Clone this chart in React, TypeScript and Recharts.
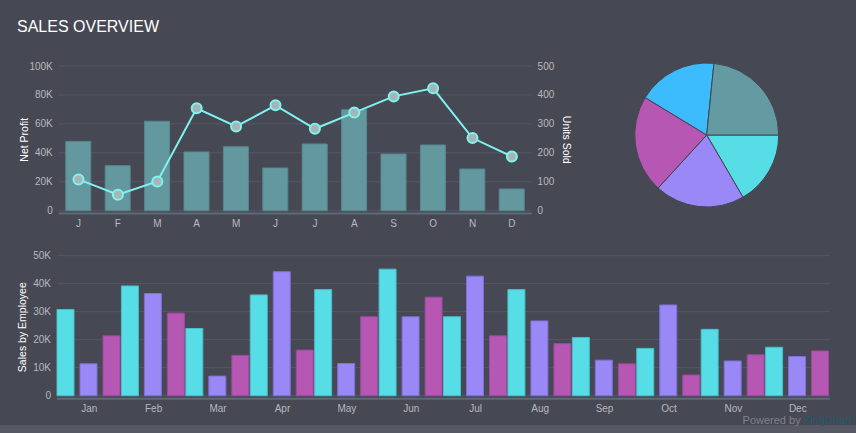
// App.tsx
import {
  ComposedChart,
  BarChart,
  PieChart,
  Pie,
  Cell,
  Bar,
  Line,
  XAxis,
  YAxis,
  CartesianGrid
} from 'recharts';

const monthInitials = ['J', 'F', 'M', 'A', 'M', 'J', 'J', 'A', 'S', 'O', 'N', 'D'];
const netProfit = [47900, 31100, 61800, 40600, 44200, 29500, 46100, 69800, 39200, 45400, 28800, 15000];
const unitsSold = [108, 55, 101, 354, 291, 364, 283, 339, 395, 423, 251, 187];

const months = ['Jan', 'Feb', 'Mar', 'Apr', 'May', 'Jun', 'Jul', 'Aug', 'Sep', 'Oct', 'Nov', 'Dec'];
const employeeA = [30800, 39200, 24000, 36000, 37900, 45200, 28200, 37900, 20800, 16900, 23700, 17300];
const employeeB = [11400, 36500, 7000, 44300, 11500, 28200, 42700, 26700, 12700, 32400, 12400, 14000];
const employeeC = [21400, 29500, 14400, 16300, 28200, 35200, 21400, 18600, 11400, 7400, 14600, 16000];

const pieNames = ['A', 'B', 'C', 'D', 'E'];
const pieValues = [16.6, 20.2, 21.9, 17.9, 23.4];
const pieColors = ['#56dde6', '#9a88f6', '#b657b3', '#3dbcfd', '#649aa1'];

const profitTicks = [0, 20000, 40000, 60000, 80000, 100000];
const unitTicks = [0, 100, 200, 300, 400, 500];
const salesTicks = [0, 10000, 20000, 30000, 40000, 50000];

const topData = monthInitials.map((m, i) => ({ month: m, profit: netProfit[i], units: unitsSold[i] }));
const bottomData = months.map((m, i) => ({ month: m, a: employeeA[i], b: employeeB[i], c: employeeC[i] }));
const pieData = pieNames.map((n, i) => ({ name: n, value: pieValues[i] }));

const BG = '#464854';
const GRID = '#555865';
const AXIS = '#5b6a75';
const TICK = { fill: '#b8b9bd', fontSize: 10 };
const FONT = "'Liberation Sans', Arial, Helvetica, sans-serif";

const kFormat = (v: number) => (v === 0 ? '0' : `${v / 1000}K`);

const axisTitle = (text: string, x: number, rotate: number) => (props: any) => {
  const vb = props.viewBox;
  const cy = vb.y + vb.height / 2;
  return (
    <text
      x={x}
      y={cy}
      transform={`rotate(${rotate} ${x} ${cy})`}
      textAnchor="middle"
      dominantBaseline="central"
      fill="#ffffff"
      fontSize={10.5}
    >
      {text}
    </text>
  );
};

export default function App() {
  return (
    <div
      style={{
        position: 'absolute',
        left: 0,
        top: 0,
        width: 856,
        height: 433,
        background: BG,
        fontFamily: FONT,
        overflow: 'hidden'
      }}
    >
      <div style={{ position: 'absolute', left: 17, top: 18.5, fontSize: 16, lineHeight: '16px', color: '#ffffff' }}>
        SALES OVERVIEW
      </div>

      <div style={{ position: 'absolute', left: 0, top: 0 }}>
        <ComposedChart
          width={600}
          height={240}
          data={topData}
          margin={{ top: 66, right: 0, bottom: 0, left: 0 }}
          barCategoryGap={7}
          style={{ fontFamily: FONT }}
        >
          <CartesianGrid yAxisId="left" vertical={false} stroke={GRID} strokeWidth={1} />
          <XAxis
            dataKey="month"
            height={26.5}
            tick={TICK}
            tickLine={false}
            tickSize={0}
            tickMargin={6}
            axisLine={{ stroke: AXIS, strokeWidth: 2 }}
          />
          <YAxis
            yAxisId="left"
            width={58.8}
            domain={[-1940, 100000]}
            allowDataOverflow
            ticks={profitTicks}
            tickFormatter={kFormat}
            tick={TICK}
            tickLine={false}
            tickSize={0}
            tickMargin={6}
            axisLine={false}
            label={{ content: axisTitle('Net Profit', 24, -90) }}
          />
          <YAxis
            yAxisId="right"
            orientation="right"
            width={68.4}
            domain={[-9.7, 500]}
            allowDataOverflow
            ticks={unitTicks}
            tick={{ ...TICK, textAnchor: 'start' }}
            tickLine={false}
            tickSize={0}
            tickMargin={6}
            axisLine={false}
            label={{ content: axisTitle('Units Sold', 566.5, 90) }}
          />
          <Bar yAxisId="left" dataKey="profit" fill="#64989f" stroke="#58878f" strokeWidth={1} isAnimationActive={false} />
          <Line
            yAxisId="right"
            type="linear"
            dataKey="units"
            stroke="#7ff3f0"
            strokeWidth={2}
            dot={{ r: 5, fill: '#a6b6b7', stroke: '#7ff3f0', strokeWidth: 2 }}
            activeDot={false}
            isAnimationActive={false}
          />
        </ComposedChart>
      </div>

      <div style={{ position: 'absolute', left: 620, top: 50 }}>
        <PieChart width={175} height={170} margin={{ top: 0, right: 0, bottom: 0, left: 0 }}>
          <Pie
            data={pieData}
            dataKey="value"
            nameKey="name"
            cx={86.7}
            cy={85}
            outerRadius={72}
            startAngle={0}
            endAngle={-360}
            stroke="#43454f"
            strokeWidth={1}
            isAnimationActive={false}
          >
            {pieData.map((d, i) => (
              <Cell key={d.name} fill={pieColors[i]} />
            ))}
          </Pie>
        </PieChart>
      </div>

      <div style={{ position: 'absolute', left: 0, top: 240 }}>
        <BarChart
          width={856}
          height={190}
          data={bottomData}
          margin={{ top: 15.7, right: 26, bottom: 0, left: 0 }}
          barCategoryGap={0}
          barGap={6}
          style={{ fontFamily: FONT }}
        >
          <CartesianGrid vertical={false} stroke={GRID} strokeWidth={1} />
          <XAxis
            dataKey="month"
            height={31.3}
            tick={TICK}
            tickLine={false}
            tickSize={0}
            tickMargin={6}
            axisLine={{ stroke: AXIS, strokeWidth: 2 }}
          />
          <YAxis
            width={57}
            domain={[-1070, 50000]}
            allowDataOverflow
            ticks={salesTicks}
            tickFormatter={kFormat}
            tick={TICK}
            tickLine={false}
            tickSize={0}
            tickMargin={6}
            axisLine={false}
            label={{ content: axisTitle('Sales by Employee', 22.5, -90) }}
          />
          <Bar dataKey="a" fill="#56dde6" stroke="#4bbdc6" strokeWidth={1} isAnimationActive={false} />
          <Bar dataKey="b" fill="#9a88f6" stroke="#7f70d2" strokeWidth={1} isAnimationActive={false} />
          <Bar dataKey="c" fill="#b657b3" stroke="#9a4b9b" strokeWidth={1} isAnimationActive={false} />
        </BarChart>
      </div>

      <div style={{ position: 'absolute', left: 0, top: 425, width: 856, height: 8, background: '#565864' }} />
      <div
        style={{
          position: 'absolute',
          right: 4,
          top: 414.5,
          fontSize: 11,
          lineHeight: '10px',
          color: '#80828b'
        }}
      >
        Powered by <span style={{ color: '#245b6c' }}>ZingChart</span>
      </div>
    </div>
  );
}
